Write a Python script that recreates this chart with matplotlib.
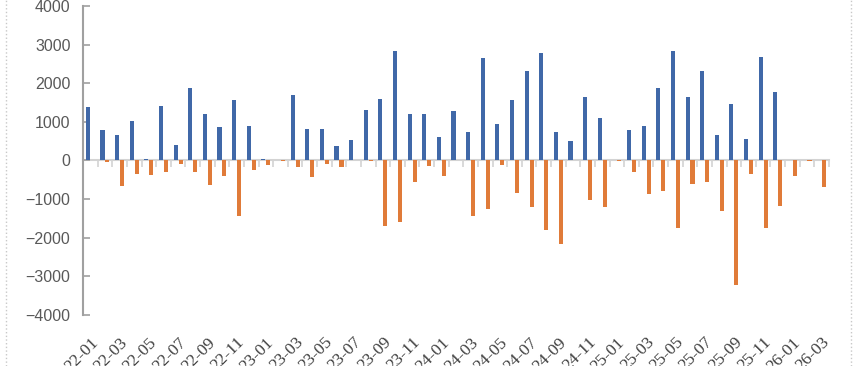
import matplotlib
matplotlib.use('Agg')
from matplotlib import pyplot as plt
from matplotlib.lines import Line2D
import numpy as np

# meses de 2022-01 a 2026-03
meses = ['%02d-%02d' % (22 + i // 12, i % 12 + 1) for i in range(51)]

# série azul (positiva)
azul = [1380, 800, 670, 1035, 30, 1400, 395, 1886, 1215, 860, 1560, 885,
        40, 0, 1705, 827, 827, 370, 543, 1300, 1602, 2842, 1215, 1215,
        603, 1292, 732, 2661, 956, 1576, 2308, 2790, 732, 517, 1654, 1111,
        0, 800, 904, 1886, 2842, 1654, 2308, 672, 1473, 568, 2687, 1783,
        0, 0, 0]

# série laranja (negativa)
laranja = [0, -30, -665, -360, -380, -285, -95, -285, -645, -405, -1440, -258,
           -120, -25, -170, -430, -85, -170, 0, -25, -1698, -1594, -560, -147,
           -405, 0, -1440, -1266, -120, -835, -1206, -1800, -2153, 0, -1025, -1206,
           -20, -302, -870, -793, -1750, -612, -560, -1310, -3222, -354, -1750, -1180,
           -405, -20, -690]


def desenha():
    fig = plt.figure(figsize=(8.58, 3.66), dpi=100)
    ax = fig.add_axes([83 / 858, 1 - 315 / 366, (829 - 83) / 858, (315 - 6) / 366])

    x = np.arange(len(meses))
    ax.bar(x - 0.17, azul, width=0.28, color='#4068a8', zorder=3)
    ax.bar(x + 0.17, laranja, width=0.28, color='#e07b39', zorder=3)

    ax.set_xlim(-0.5, len(meses) - 0.5)
    ax.set_ylim(-4000, 4000)
    ax.set_yticks(np.arange(-4000, 4001, 1000))

    for lado in ['top', 'right', 'bottom']:
        ax.spines[lado].set_visible(False)
    ax.spines['left'].set_color('#a0a0a0')
    ax.spines['left'].set_linewidth(1.5)

    ax.tick_params(axis='y', direction='in', length=5, width=1.2, color='#a0a0a0',
                   labelsize=11.5, labelcolor='#595959', pad=9)
    for t in ax.get_yticklabels():
        t.set_fontfamily('Liberation Sans')

    # rótulos das categorias embaixo, um sim um não
    ax.set_xticks(x[::2])
    ax.set_xticklabels(meses[::2], rotation=45, ha='right', va='top',
                       rotation_mode='anchor', family='Liberation Serif',
                       fontsize=12.5, color='#404040')
    ax.tick_params(axis='x', length=0, pad=14)

    # eixo no zero com marcas entre categorias
    fronteiras = np.arange(-0.5, len(meses), 1.0)
    eixo0 = ax.secondary_xaxis(0.5)
    eixo0.set_alignment('bottom')
    for sp in eixo0.spines.values():
        sp.set_color('#d3d3d3')
        sp.set_linewidth(1.5)
    eixo0.set_xticks(fronteiras, labels=[''] * len(fronteiras))
    eixo0.tick_params(axis='x', direction='out', length=5, width=1.2,
                      color='#d3d3d3')

    # bordas pontilhadas do gráfico
    for xp in [6 / 858, 851 / 858]:
        fig.add_artist(Line2D([xp, xp], [0, 1], transform=fig.transFigure,
                              ls=':', lw=1, color='#c8c8c8'))

    plt.savefig('out.png', dpi=100)


def main():
    desenha()


if __name__ == '__main__':
    main()
